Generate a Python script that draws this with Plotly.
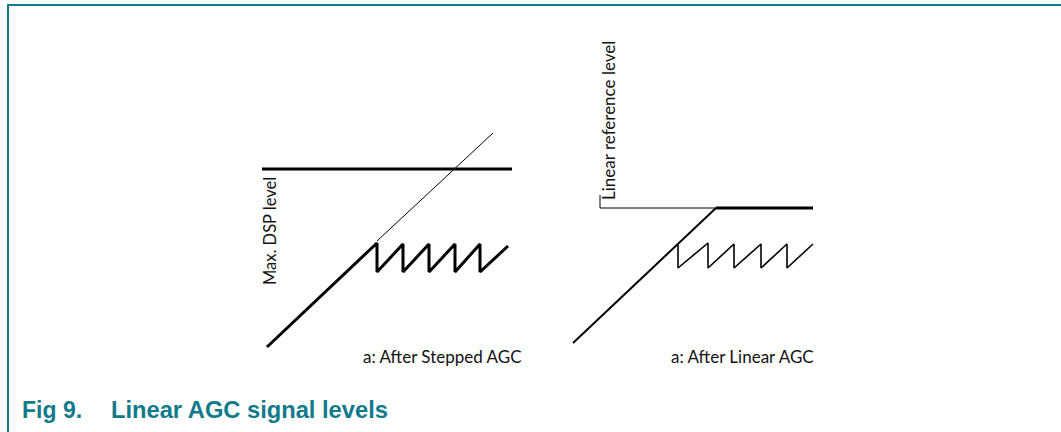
import plotly.graph_objects as go

# ---- data (schematic levels; x = input level, y = output level, screen-down units) ----
# Left diagram: after stepped AGC
max_dsp_x = [262, 512]
max_dsp_y = [169, 169]
unclipped_x = [377, 493]
unclipped_y = [241, 133]
stepped_x = [267, 377, 377, 403, 403, 429, 429, 455, 455, 480, 480, 508]
stepped_y = [347, 243, 272, 244, 272, 244, 272, 244, 272, 244, 272, 246]

# Right diagram: after linear AGC
ref_thin_x = [600, 716]
ref_thin_y = [208, 208]
ref_thick_x = [716, 813]
ref_thick_y = [208, 208]
linear_diag_x = [573, 716]
linear_diag_y = [343, 208]
linear_saw_x = [678, 678, 708, 708, 734, 734, 761, 761, 787, 787, 813]
linear_saw_y = [245, 268, 243, 268, 244, 268, 244, 268, 244, 268, 244]
ref_tick_x = [600, 600]
ref_tick_y = [195, 208]

labels = {
    "max_dsp": "Max. DSP level",
    "lin_ref": "Linear reference level",
    "cap_left": "a: After Stepped AGC",
    "cap_right": "a: After Linear AGC",
    "fig_no": "Fig 9.",
    "fig_title": "Linear AGC signal levels",
}

TEAL = "#117a8b"
LABEL_FONT = dict(family="Lato, 'Open Sans', sans-serif", size=17, color="#111111")

fig = go.Figure()

def line(x, y, w):
    fig.add_trace(go.Scatter(x=x, y=y, mode="lines",
                             line=dict(color="black", width=w),
                             hoverinfo="skip", showlegend=False))

line(max_dsp_x, max_dsp_y, 3)
line(unclipped_x, unclipped_y, 1)
line(stepped_x, stepped_y, 3)
line(ref_thin_x, ref_thin_y, 1)
line(ref_thick_x, ref_thick_y, 3)
line(linear_diag_x, linear_diag_y, 2)
line(linear_saw_x, linear_saw_y, 1.6)
line(ref_tick_x, ref_tick_y, 1)

fig.add_annotation(x=270, y=231, text=labels["max_dsp"], textangle=-90,
                   showarrow=False, font=dict(LABEL_FONT, size=16.5), xanchor="center", yanchor="middle")
fig.add_annotation(x=608, y=121, text=labels["lin_ref"], textangle=-90,
                   showarrow=False, font=LABEL_FONT, xanchor="center", yanchor="middle")
fig.add_annotation(x=442, y=356, text=labels["cap_left"], showarrow=False,
                   font=LABEL_FONT, xanchor="center", yanchor="middle")
fig.add_annotation(x=742, y=356, text=labels["cap_right"], showarrow=False,
                   font=LABEL_FONT, xanchor="center", yanchor="middle")

CAP_FONT = dict(family="Liberation Sans, Arial, sans-serif", size=23, color=TEAL)
fig.add_annotation(x=20, y=410, text="<b>" + labels["fig_no"] + "</b>", showarrow=False,
                   font=CAP_FONT, xanchor="left", yanchor="middle")
fig.add_annotation(x=109, y=410, text="<b>" + labels["fig_title"] + "</b>", showarrow=False,
                   font=dict(CAP_FONT, size=23.7), xanchor="left", yanchor="middle")

# frame decoration
fig.add_shape(type="line", xref="paper", yref="paper", x0=7/1061, x1=1, y0=1-5/432, y1=1-5/432,
              line=dict(color=TEAL, width=2))
fig.add_shape(type="line", xref="paper", yref="paper", x0=8/1061, x1=8/1061, y0=0, y1=1-5/432,
              line=dict(color=TEAL, width=2))

fig.update_xaxes(range=[0, 1061], visible=False, fixedrange=True)
fig.update_yaxes(range=[432, 0], visible=False, fixedrange=True)
fig.update_layout(width=1061, height=432, margin=dict(l=0, r=0, t=0, b=0),
                  paper_bgcolor="white", plot_bgcolor="white", showlegend=False)

fig.write_html("out.html", config={"displayModeBar": False},
               post_script="document.body.style.margin='0';document.body.style.overflow='hidden';")
